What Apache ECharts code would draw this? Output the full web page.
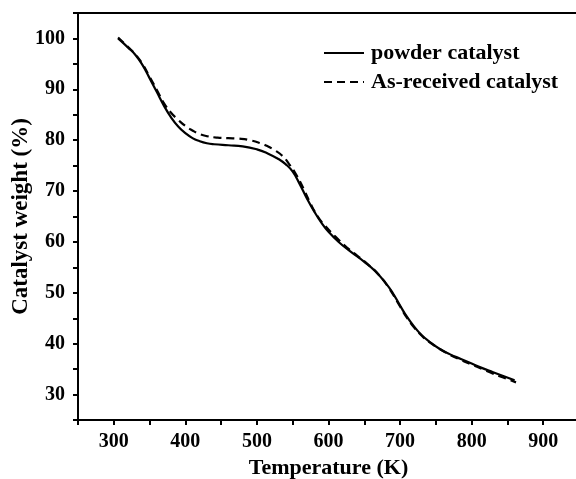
<!DOCTYPE html>
<html>
<head>
<meta charset="utf-8">
<script src="https://cdn.jsdelivr.net/npm/echarts@6/dist/echarts.min.js"></script>
<style>
  html, body { margin: 0; padding: 0; background: #fff; }
  #tga { width: 576px; height: 479px; }
</style>
</head>
<body>
<div id="tga"></div>
<script>
// temperature (K) / weight (%)
var powderTemp = [306, 320, 330, 340, 350, 360, 370, 380, 390, 400, 410, 420, 430, 440, 460, 480, 500, 515, 530, 540, 550, 560, 570, 580, 590, 600, 615, 630, 650, 665, 680, 690, 700, 710, 720, 730, 740, 755, 770, 785, 800, 815, 830, 845, 860];
var powderWeight = [100.0, 98.2, 96.8, 94.8, 92.2, 89.5, 86.8, 84.5, 82.7, 81.4, 80.4, 79.8, 79.4, 79.2, 79.0, 78.8, 78.2, 77.4, 76.3, 75.3, 73.8, 71.3, 68.5, 66.0, 63.8, 62.0, 59.9, 58.2, 56.1, 54.3, 51.9, 49.9, 47.5, 45.2, 43.3, 41.7, 40.5, 39.0, 37.9, 37.0, 36.1, 35.2, 34.4, 33.6, 32.8];

var receivedTemp = [306, 320, 330, 340, 350, 360, 370, 380, 390, 400, 410, 420, 430, 445, 460, 475, 490, 505, 515, 525, 535, 545, 555, 565, 575, 585, 595, 610, 625, 640, 655, 670, 685, 700, 710, 720, 730, 740, 755, 770, 785, 800, 815, 830, 845, 862];
var receivedWeight = [100.2, 98.3, 96.9, 95.0, 92.5, 89.9, 87.3, 85.4, 84.0, 82.8, 81.9, 81.2, 80.8, 80.5, 80.4, 80.3, 80.0, 79.4, 78.8, 78.0, 77.0, 75.3, 73.2, 70.5, 67.5, 65.0, 63.2, 61.0, 59.0, 57.3, 55.6, 53.6, 50.8, 47.3, 45.0, 43.1, 41.6, 40.4, 39.0, 37.8, 36.8, 35.9, 35.0, 34.1, 33.3, 32.4];

var seriesNames = ['powder catalyst', 'As-received catalyst'];

function pairs(xs, ys) {
  var out = [];
  for (var i = 0; i < xs.length; ++i) {
    out.push([xs[i], ys[i]]);
  }
  return out;
}

var font = 'Liberation Serif';
var myChart = echarts.init(document.getElementById('tga'));

var option = {
  backgroundColor: '#fff',
  animation: false,
  grid: {
    left: 78,
    top: 13,
    bottom: 59,
    width: 501,
    outerBoundsMode: 'none',
    containLabel: false,
    show: true,
    borderColor: '#000',
    borderWidth: 2
  },
  legend: {
    orient: 'vertical',
    left: 318,
    top: 37,
    itemWidth: 40,
    itemHeight: 20,
    itemGap: 7,
    data: seriesNames,
    itemStyle: { color: 'rgba(0,0,0,0)', borderWidth: 0 },
    textStyle: {
      fontFamily: font,
      fontWeight: 'bold',
      fontSize: 22,
      color: '#000',
      padding: [0, 0, 0, 2]
    }
  },
  xAxis: {
    type: 'value',
    min: 250,
    max: 950,
    interval: 50,
    name: 'Temperature (K)',
    nameLocation: 'middle',
    nameGap: 37,
    nameMoveOverlap: false,
    nameTextStyle: { fontFamily: font, fontWeight: 'bold', fontSize: 22, color: '#000' },
    axisLine: { lineStyle: { color: '#000', width: 2 } },
    axisTick: { show: true, length: 5, lineStyle: { color: '#000', width: 2 } },
    splitLine: { show: false },
    axisLabel: {
      margin: 12,
      fontFamily: font,
      fontWeight: 'bold',
      fontSize: 20,
      color: '#000',
      formatter: function (v) {
        return (v % 100 === 0 && v >= 300 && v <= 900) ? String(v) : '';
      }
    }
  },
  yAxis: {
    type: 'value',
    min: 25,
    max: 105,
    interval: 5,
    name: 'Catalyst weight (%)',
    nameLocation: 'middle',
    nameGap: 45,
    nameMoveOverlap: false,
    nameTextStyle: { fontFamily: font, fontWeight: 'bold', fontSize: 23, color: '#000' },
    axisLine: { lineStyle: { color: '#000', width: 2 } },
    axisTick: { show: true, length: 5, lineStyle: { color: '#000', width: 2 } },
    splitLine: { show: false },
    axisLabel: {
      margin: 13,
      fontFamily: font,
      fontWeight: 'bold',
      fontSize: 20,
      color: '#000',
      formatter: function (v) {
        return (v % 10 === 0 && v >= 30 && v <= 100) ? String(v) : '';
      }
    }
  },
  series: [{
    name: seriesNames[0],
    type: 'line',
    smooth: true,
    showSymbol: false,
    symbol: 'none',
    data: pairs(powderTemp, powderWeight),
    lineStyle: { color: '#000', width: 2.2 },
    itemStyle: { color: '#000' }
  }, {
    name: seriesNames[1],
    type: 'line',
    smooth: true,
    showSymbol: false,
    symbol: 'none',
    data: pairs(receivedTemp, receivedWeight),
    lineStyle: { color: '#000', width: 2.2, type: [8, 5] },
    itemStyle: { color: '#000' }
  }]
};
myChart.setOption(option);
</script>
</body>
</html>
